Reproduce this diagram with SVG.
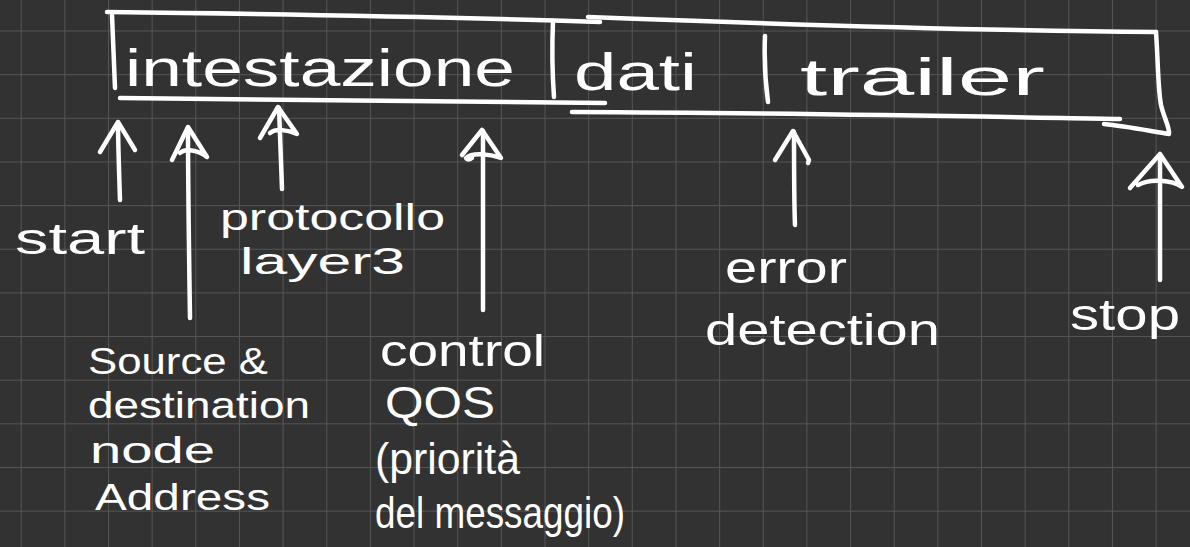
<svg xmlns="http://www.w3.org/2000/svg" width="1190" height="547" viewBox="0 0 1190 547">
<defs>
<pattern id="grid" x="20.7" y="30.5" width="43.65" height="43.65" patternUnits="userSpaceOnUse">
<path d="M0 0H43.65M0 0V43.65" fill="none" stroke="#555" stroke-width="2"/>
</pattern>
</defs>
<style>
.ink{fill:none;stroke:#fff;stroke-width:4.5;stroke-linecap:round;stroke-linejoin:round}
.lbl{fill:#fff;font-family:"Liberation Sans","Noto Sans",sans-serif;font-size:44px}
.big{font-size:52px}
.sm{font-size:37px}
</style>
<rect width="1190" height="547" fill="#323232"/>
<rect width="1190" height="547" fill="url(#grid)"/>

<g id="frame">
<path class="ink" d="M107 12 C300 14 480 18 600 22"/>
<path class="ink" d="M588 17 C800 25 1000 31 1156 32"/>
<path class="ink" d="M112 15 C113 40 114 65 115 88"/>
<path class="ink" d="M120 98 C300 100 480 103 605 103"/>
<path class="ink" d="M572 112 C800 113 1000 117 1120 119"/>
<path class="ink" d="M1156 32 C1158 60 1158 90 1161 105 C1164 118 1170 128 1169 134 C1150 131 1125 126 1104 124"/>
</g>

<g id="field-intestazione">
<text class="lbl big" x="125" y="86" textLength="390" lengthAdjust="spacingAndGlyphs">intestazione</text>
</g>
<g id="field-dati">
<path class="ink" d="M553 21 C552 45 552 70 554 97"/>
<text class="lbl big" x="574" y="90" textLength="123" lengthAdjust="spacingAndGlyphs">dati</text>
</g>
<g id="field-trailer">
<path class="ink" d="M765 36 C764 60 765 80 768 102"/>
<text class="lbl big" x="800" y="95" textLength="245" lengthAdjust="spacingAndGlyphs">trailer</text>
</g>

<g id="connectors">
<path class="ink" d="M120 200 C119 170 118 140 118 123"/>
<path class="ink" d="M100 152 L118 122 L135 150"/>
<path class="ink" d="M190 318 C189 250 188 190 188 128"/>
<path class="ink" d="M172 160 L188 127 L207 157 C198 150 185 148 180 153"/>
<path class="ink" d="M282 189 C281 160 280 130 279 108"/>
<path class="ink" d="M260 138 L278 107 L297 134 C288 130 276 128 270 133"/>
<path class="ink" d="M483 310 C483 250 483 180 483 131"/>
<path class="ink" d="M462 155 L482 130 L501 158 C490 154 472 152 466 158 C467 160 470 160 472 158"/>
<path class="ink" d="M795 225 C794 200 794 160 794 132"/>
<path class="ink" d="M775 160 L793 131 L809 160 L808 163"/>
<path class="ink" d="M1160 280 C1160 240 1160 190 1160 156"/>
<path class="ink" d="M1130 188 L1160 154 L1182 187 C1172 180 1150 178 1138 185"/>
</g>

<g id="label-start">
<text class="lbl" x="15" y="254" font-size="48" textLength="130" lengthAdjust="spacingAndGlyphs">start</text>
</g>
<g id="label-protocollo">
<text class="lbl sm" x="220" y="230" textLength="225" lengthAdjust="spacingAndGlyphs">protocollo</text>
<text class="lbl sm" x="240" y="274" textLength="165" lengthAdjust="spacingAndGlyphs">layer3</text>
</g>
<g id="label-address">
<text class="lbl sm" x="88" y="374" textLength="180" lengthAdjust="spacingAndGlyphs">Source &amp;</text>
<text class="lbl sm" x="88" y="418" textLength="222" lengthAdjust="spacingAndGlyphs">destination</text>
<text class="lbl sm" x="90" y="463" textLength="125" lengthAdjust="spacingAndGlyphs">node</text>
<text class="lbl sm" x="95" y="510" textLength="175" lengthAdjust="spacingAndGlyphs">Address</text>
</g>
<g id="label-control">
<text class="lbl" x="380" y="366" textLength="165" lengthAdjust="spacingAndGlyphs">control</text>
<text class="lbl" x="385" y="418" textLength="110" lengthAdjust="spacingAndGlyphs">QOS</text>
<text class="lbl" x="375" y="474" textLength="145" lengthAdjust="spacingAndGlyphs">(priorità</text>
<text class="lbl" x="375" y="528" textLength="250" lengthAdjust="spacingAndGlyphs">del messaggio)</text>
</g>
<g id="label-error">
<text class="lbl" x="725" y="283" textLength="122" lengthAdjust="spacingAndGlyphs">error</text>
<text class="lbl" x="705" y="345" textLength="235" lengthAdjust="spacingAndGlyphs">detection</text>
</g>
<g id="label-stop">
<text class="lbl" x="1070" y="330" textLength="110" lengthAdjust="spacingAndGlyphs">stop</text>
</g>
</svg>
